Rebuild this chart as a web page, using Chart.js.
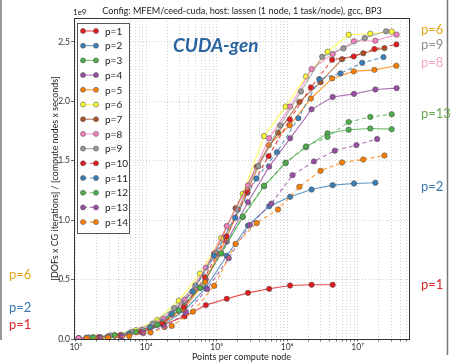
<!DOCTYPE html>
<html>
<head>
<meta charset="utf-8">
<script src="https://cdn.jsdelivr.net/npm/chart.js@4/dist/chart.umd.min.js"></script>
<style>
  html, body { margin: 0; padding: 0; background: #fff; }
  #wrap { width: 450px; height: 362px; }
</style>
</head>
<body>
<div id="wrap"><canvas id="bp3" width="450" height="362"></canvas></div>
<script>
// points per compute node (one grid per family of orders sharing mesh sizes)
const xGridA = [1.1e3, 2.2e3, 4.4e3, 8.7e3, 1.74e4, 3.5e4, 7.0e4, 1.39e5, 2.78e5, 5.55e5, 1.1e6, 2.22e6, 4.42e6, 8.87e6, 1.78e7, 3.57e7];
const xGridB = [1.77e3, 3.57e3, 7.16e3, 1.44e4, 2.89e4, 5.8e4, 1.16e5, 2.34e5, 4.7e5, 9.5e5, 1.85e6, 3.74e6, 7.46e6, 1.51e7, 3.04e7];
const xGridC = [2.12e3, 4.25e3, 8.5e3, 1.7e4, 3.41e4, 6.82e4, 1.37e5, 2.73e5, 5.46e5, 1.09e6, 2.17e6, 4.35e6, 8.8e6, 1.73e7, 3.54e7];
const xGridD = [1.43e3, 2.87e3, 5.74e3, 1.15e4, 2.3e4, 4.6e4, 9.23e4, 1.85e5, 3.7e5, 7.4e5, 1.49e6, 2.98e6, 6.0e6, 1.2e7, 2.4e7];
const xGridE = [1.55e3, 3.1e3, 6.2e3, 1.24e4, 2.49e4, 4.98e4, 9.97e4, 2.0e5, 3.9e5, 7.96e5, 1.57e6, 3.14e6, 6.29e6, 1.26e7, 2.53e7];
const xGridF = [1.42e3, 2.84e3, 5.69e3, 1.14e4, 2.28e4, 4.56e4, 9.14e4, 1.83e5, 3.66e5, 7.16e5, 1.44e6, 2.85e6, 5.7e6, 1.16e7, 2.32e7];
const xGridG = [2.25e3, 4.52e3, 9.08e3, 1.82e4, 3.66e4, 7.35e4, 1.48e5, 2.96e5, 5.96e5, 1.19e6, 2.4e6, 4.74e6, 9.6e6, 1.89e7];

// [DOFs x CG iterations] / [compute nodes x seconds], in units of 1e9
const yP1  = [0.006, 0.012, 0.03, 0.06, 0.12, 0.19, 0.285, 0.338, 0.388, 0.422, 0.45, 0.456, 0.456];
const yP2  = [0.006, 0.013, 0.028, 0.058, 0.12, 0.24, 0.43, 0.7, 0.954, 1.116, 1.196, 1.257, 1.294, 1.308, 1.314];
const yP3  = [0.013, 0.03, 0.06, 0.12, 0.24, 0.43, 0.72, 1.027, 1.285, 1.483, 1.614, 1.73, 1.76, 1.77, 1.765];
const yP4  = [0.006, 0.013, 0.03, 0.065, 0.14, 0.28, 0.5, 0.82, 1.15, 1.45, 1.688, 1.932, 2.036, 2.062, 2.099, 2.11];
const yP5  = [0.013, 0.03, 0.065, 0.13, 0.25, 0.48, 0.85, 1.25, 1.631, 1.797, 2.023, 2.192, 2.251, 2.264, 2.298];
const yP6  = [0.015, 0.035, 0.075, 0.16, 0.32, 0.55, 0.85, 1.221, 1.707, 1.955, 2.208, 2.416, 2.559, 2.568, 2.585];
const yP7  = [0.01, 0.02, 0.045, 0.1, 0.21, 0.4, 0.72, 1.1, 1.45, 1.736, 1.994, 2.16, 2.354, 2.403, 2.447];
const yP8  = [0.007, 0.015, 0.035, 0.08, 0.17, 0.33, 0.6, 0.95, 1.291, 1.688, 1.955, 2.27, 2.397, 2.504, 2.509, 2.56];
const yP9  = [0.013, 0.03, 0.06, 0.13, 0.26, 0.45, 0.72, 1.089, 1.454, 1.797, 2.082, 2.374, 2.445, 2.532, 2.588];
const yP10 = [0.012, 0.028, 0.06, 0.13, 0.27, 0.52, 0.863, 1.23, 1.538, 1.846, 2.116, 2.349, 2.377, 2.439, 2.478];
const yP11 = [0.01, 0.02, 0.045, 0.1, 0.21, 0.4, 0.7, 1.02, 1.35, 1.572, 1.857, 2.186, 2.234, 2.323, 2.371];
const yP12 = [0.012, 0.028, 0.058, 0.12, 0.24, 0.43, 0.72, 1.03, 1.29, 1.48, 1.62, 1.7, 1.825, 1.868, 1.89];
const yP13 = [0.01, 0.022, 0.05, 0.1, 0.22, 0.42, 0.68, 0.96, 1.139, 1.378, 1.494, 1.584, 1.631, 1.682];
const yP14 = [0.006, 0.012, 0.025, 0.055, 0.11, 0.23, 0.447, 0.8, 0.976, 1.089, 1.28, 1.415, 1.485, 1.51, 1.544];

const orderLabels = ['p=1', 'p=2', 'p=3', 'p=4', 'p=5', 'p=6', 'p=7', 'p=8', 'p=9', 'p=10', 'p=11', 'p=12', 'p=13', 'p=14'];
const xSeries = [xGridA, xGridA, xGridB, xGridA, xGridC, xGridB, xGridD, xGridA, xGridE, xGridC, xGridF, xGridB, xGridG, xGridD];
const ySeries = [yP1, yP2, yP3, yP4, yP5, yP6, yP7, yP8, yP9, yP10, yP11, yP12, yP13, yP14];

const yTicks = [0, 0.5, 1.0, 1.5, 2.0, 2.5];
const xDecades = [1e3, 1e4, 1e5, 1e6, 1e7];
const xTickLabels = ['10³', '10⁴', '10⁵', '10⁶', '10⁷'];

const palette = ['#e41a1c', '#377eb8', '#4daf4a', '#984ea3', '#ff7f00', '#ffff33', '#a65628', '#f781bf', '#999999'];
const FONT = 'Lato, "DejaVu Sans", sans-serif';

// side notes copied from the slide
const sideNotes = [
    { text: 'p=6', x: 421, y: 30, color: '#e3a61c' },
    { text: 'p=9', x: 421, y: 45, color: '#8f8f8f' },
    { text: 'p=8', x: 421, y: 63, color: '#f6a5c8' },
    { text: 'p=13', x: 421, y: 114, color: '#69a84f' },
    { text: 'p=2', x: 421, y: 187, color: '#3a75b0' },
    { text: 'p=1', x: 421, y: 285, color: '#d9262b' },
    { text: 'p=6', x: 9, y: 275, color: '#e3a61c' },
    { text: 'p=2', x: 9, y: 308, color: '#3a75b0' },
    { text: 'p=1', x: 9, y: 325, color: '#d9262b' }
];

function withAlpha(hex, a) {
    const n = parseInt(hex.slice(1), 16);
    return 'rgba(' + (n >> 16) + ',' + ((n >> 8) & 255) + ',' + (n & 255) + ',' + a + ')';
}

const datasets = ySeries.map(function(ys, i) {
    const xs = xSeries[i];
    const c = palette[i % palette.length];
    return {
        label: orderLabels[i],
        data: ys.map(function(v, k) { return { x: xs[k], y: v }; }),
        borderColor: withAlpha(c, 0.8),
        backgroundColor: c,
        borderWidth: 1.1,
        borderDash: i >= 9 ? [4, 3] : [],
        pointRadius: 2.7,
        pointBackgroundColor: c,
        pointBorderColor: '#555',
        pointBorderWidth: 0.6,
        tension: 0,
        order: ySeries.length - i
    };
});

// x grid lines at 1..9 x 10^k
const xGridValues = [];
xDecades.forEach(function(d) {
    for (let m = 1; m <= 9; m++) {
        if (m * d <= 5.35e7) xGridValues.push(m * d);
    }
});

const decorations = {
    id: 'decorations',
    afterDraw(chart) {
        const ctx = chart.ctx;
        const a = chart.chartArea;
        ctx.save();

        // axes frame
        ctx.strokeStyle = '#333';
        ctx.lineWidth = 1;
        ctx.strokeRect(Math.round(a.left) + 0.5, Math.round(a.top) + 0.5, Math.round(a.right - a.left), Math.round(a.bottom - a.top));

        // slide edges
        ctx.strokeStyle = '#777';
        ctx.lineWidth = 1.5;
        ctx.beginPath();
        ctx.moveTo(1, 0); ctx.lineTo(1, 340);
        ctx.moveTo(447.5, 0); ctx.lineTo(447.5, 355);
        ctx.stroke();

        // title
        ctx.fillStyle = '#222';
        ctx.font = '9.1px ' + FONT;
        ctx.textAlign = 'center';
        ctx.textBaseline = 'middle';
        ctx.fillText('Config: MFEM/ceed-cuda, host: lassen (1 node, 1 task/node), gcc, BP3', 242, 11);

        // axis multiplier
        ctx.font = '8px ' + FONT;
        ctx.textAlign = 'left';
        ctx.fillText('1e9', 73, 12);

        // CUDA-gen tag
        ctx.fillStyle = '#2a64a0';
        ctx.font = 'italic bold 19px ' + FONT;
        ctx.fillText('CUDA-gen', 173, 46);

        // side notes
        ctx.font = '13px ' + FONT;
        sideNotes.forEach(function(n) {
            ctx.fillStyle = n.color;
            ctx.fillText(n.text, n.x, n.y);
        });

        // legend
        const lx = 77, ly = 23, lw = 52, lh = 210;
        ctx.fillStyle = '#fff';
        ctx.fillRect(lx, ly, lw, lh);
        ctx.strokeStyle = '#555';
        ctx.lineWidth = 1;
        ctx.strokeRect(lx + 0.5, ly + 0.5, lw, lh);
        chart.data.datasets.forEach(function(ds, i) {
            const y = 31 + i * 14.7;
            ctx.strokeStyle = ds.borderColor;
            ctx.lineWidth = 1.1;
            ctx.setLineDash(ds.borderDash);
            ctx.beginPath();
            ctx.moveTo(83, y); ctx.lineTo(96, y);
            ctx.stroke();
            ctx.setLineDash([]);
            [83, 96].forEach(function(px) {
                ctx.beginPath();
                ctx.arc(px, y, 2.5, 0, Math.PI * 2);
                ctx.fillStyle = ds.pointBackgroundColor;
                ctx.fill();
                ctx.strokeStyle = '#555';
                ctx.lineWidth = 0.6;
                ctx.stroke();
            });
            ctx.fillStyle = '#222';
            ctx.font = '10px ' + FONT;
            ctx.fillText(ds.label, 105, y + 0.5);
        });
        ctx.restore();
    }
};

new Chart(document.getElementById('bp3').getContext('2d'), {
    type: 'line',
    data: { datasets: datasets },
    options: {
        responsive: false,
        animation: false,
        layout: { padding: { top: 18, right: 41, left: 0, bottom: 0 } },
        plugins: { legend: { display: false }, tooltip: { enabled: false } },
        scales: {
            x: {
                type: 'logarithmic',
                min: 945,
                max: 5.35e7,
                afterBuildTicks: function(scale) {
                    scale.ticks = xGridValues.map(function(v) { return { value: v }; });
                },
                afterFit: function(scale) { scale.height = 23; },
                ticks: {
                    autoSkip: false,
                    maxRotation: 0,
                    padding: 1,
                    color: '#333',
                    font: { family: FONT, size: 8.5 },
                    callback: function(v) {
                        const k = xDecades.indexOf(v);
                        return k >= 0 ? xTickLabels[k] : '';
                    }
                },
                grid: { color: '#c4c4c4', lineWidth: 0.8, tickLength: 2.5, tickColor: '#444', tickBorderDash: [] },
                border: { display: false, dash: [1, 2] },
                title: { display: true, text: 'Points per compute node', color: '#222', font: { family: FONT, size: 9 }, padding: { top: 0, bottom: 0 } }
            },
            y: {
                min: 0,
                max: 2.7,
                afterBuildTicks: function(scale) {
                    scale.ticks = yTicks.map(function(v) { return { value: v }; });
                },
                afterFit: function(scale) { scale.width = 74; },
                ticks: {
                    padding: 1,
                    color: '#333',
                    font: { family: FONT, size: 8.5 },
                    callback: function(v) { return v.toFixed(1); }
                },
                grid: { color: '#c4c4c4', lineWidth: 0.8, tickLength: 3, tickColor: '#444', tickBorderDash: [] },
                border: { display: false, dash: [1, 2] },
                title: { display: true, text: '[DOFs x CG iterations] / [compute nodes x seconds]', color: '#222', font: { family: FONT, size: 9 }, padding: { top: 50, bottom: 0 } }
            }
        }
    },
    plugins: [decorations]
});
</script>
</body>
</html>
